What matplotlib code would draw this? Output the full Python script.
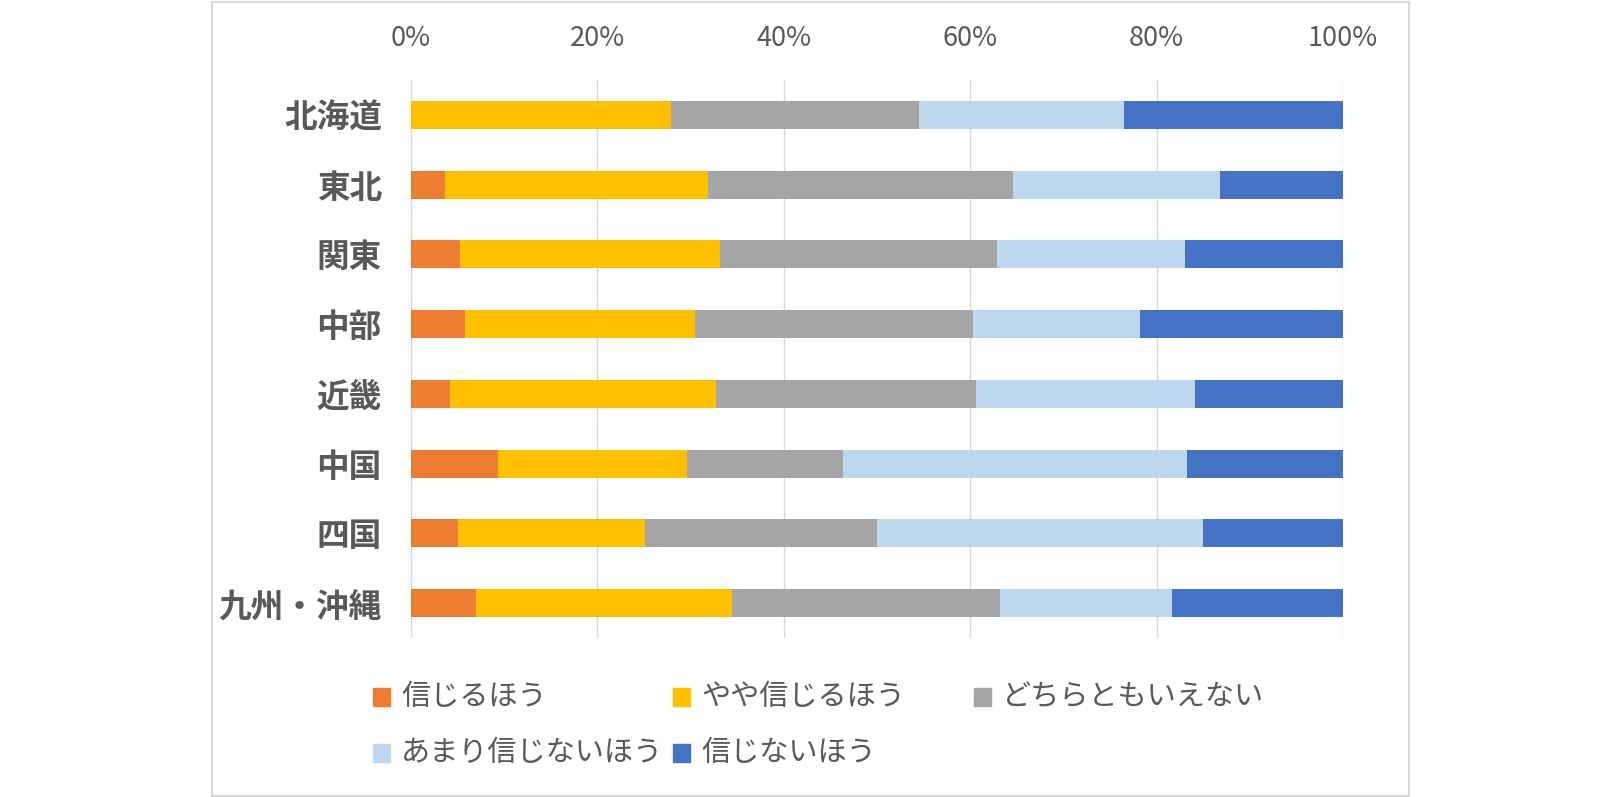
import matplotlib
matplotlib.use("Agg")
import matplotlib.pyplot as plt
from matplotlib.patches import Rectangle

plt.rcParams["font.family"] = ["Noto Sans CJK JP", "DejaVu Sans"]

regions = ["北海道", "東北", "関東", "中部", "近畿", "中国", "四国", "九州・沖縄"]
series_names = ["信じるほう", "やや信じるほう", "どちらともいえない", "あまり信じないほう", "信じないほう"]
believe = [0.0, 3.6, 5.3, 5.8, 4.2, 9.3, 5.0, 7.0]
somewhat_believe = [27.9, 28.3, 27.9, 24.7, 28.5, 20.3, 20.1, 27.4]
neutral = [26.6, 32.7, 29.7, 29.8, 27.9, 16.7, 24.9, 28.8]
not_really = [22.0, 22.2, 20.2, 17.9, 23.5, 37.0, 35.0, 18.4]
not_believe = [23.5, 13.2, 16.9, 21.8, 15.9, 16.7, 15.0, 18.4]
xticks = [0, 20, 40, 60, 80, 100]

colors = ["#ED7D31", "#FFC000", "#A5A5A5", "#BDD7EE", "#4472C4"]
TEXT = "#595959"
W, H = 1621, 797

fig = plt.figure(figsize=(W / 100, H / 100), dpi=100)
fig.patch.set_facecolor("white")

# chart frame
fig.patches.append(Rectangle((212 / W, 1 / H), (1409 - 212) / W, (795 - 1) / H,
                             transform=fig.transFigure, fill=False,
                             edgecolor="#D9D9D9", linewidth=1.5))

ax = fig.add_axes([411 / W, (H - 638) / H, (1343 - 411) / W, (638 - 80) / H])

data = [believe, somewhat_believe, neutral, not_really, not_believe]
ypos = list(range(len(regions)))
left = [0.0] * len(regions)
for vals, col, name in zip(data, colors, series_names):
    ax.barh(ypos, vals, left=left, height=0.4, color=col, label=name, zorder=3)
    left = [a + b for a, b in zip(left, vals)]

ax.set_xlim(0, 100)
ax.set_ylim(len(regions) - 0.5, -0.5)
ax.set_xticks(xticks)
ax.set_xticklabels([f"{t}%" for t in xticks], fontsize=19.5, color=TEXT)
ax.xaxis.tick_top()
ax.tick_params(axis="x", length=0, pad=20)
ax.set_yticks(ypos)
ax.set_yticklabels(regions, fontsize=23.5, fontweight="bold", color=TEXT)
ax.tick_params(axis="y", length=0, pad=21)
ax.grid(axis="x", color="#D9D9D9", linewidth=1, zorder=0)
for s in ax.spines.values():
    s.set_visible(False)
ax.axvline(0, color="#D9D9D9", linewidth=1, zorder=1)

# legend laid out like the Excel one: three fixed-width columns
col_x = [373, 673, 974]
row_y = [697, 753]
for i, (name, col) in enumerate(zip(series_names, colors)):
    r, c = divmod(i, 3)
    x0, yc = col_x[c], row_y[r]
    fig.patches.append(Rectangle((x0 / W, (H - yc - 9) / H), 17 / W, 18 / H,
                                 transform=fig.transFigure, color=col))
    fig.text((x0 + 28) / W, (H - yc) / H, name, fontsize=21, color=TEXT,
             ha="left", va="center")

fig.savefig("out.png", dpi=100, facecolor="white")
